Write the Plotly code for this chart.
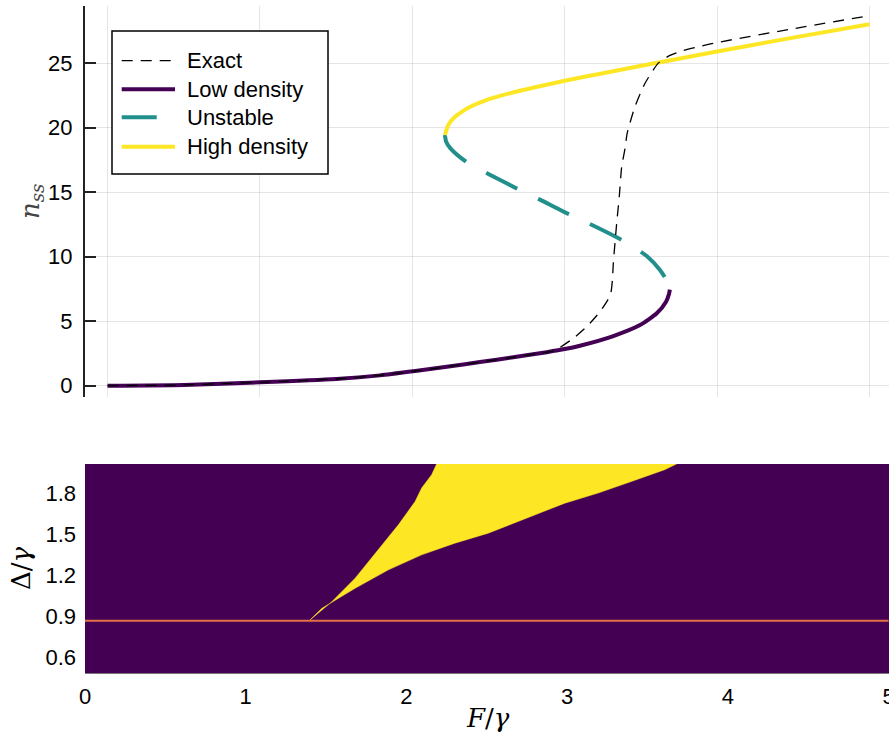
import plotly.graph_objects as go

# ---------------- data ----------------
low_F = [0.0, 0.5, 1.0, 1.5, 1.788, 2.007, 2.226, 2.444, 2.663, 2.882, 3.0, 3.10,
         3.319, 3.494, 3.604, 3.665, 3.684, 3.69]
low_n = [0.0, 0.06, 0.26, 0.52, 0.8, 1.12, 1.47, 1.83, 2.2, 2.6, 2.84, 3.1,
         3.85, 4.7, 5.61, 6.51, 7.1, 7.45]

# unstable branch, listed from the upper turning point down to the lower one
unst_F = [2.214, 2.222, 2.25, 2.357, 2.499, 2.70, 2.838, 2.99, 3.21, 3.396, 3.538,
          3.625, 3.672, 3.69]
unst_n = [19.43, 18.9, 18.4, 17.32, 16.41, 15.2, 14.42, 13.5, 12.28, 11.16, 10.05,
          8.97, 8.1, 7.45]

high_F = [2.214, 2.236, 2.28, 2.367, 2.477, 2.587, 2.805, 3.0, 3.243, 3.461, 3.68,
          4.0, 4.5, 5.0]
high_n = [19.43, 20.2, 20.85, 21.55, 22.1, 22.5, 23.13, 23.64, 24.2, 24.7, 25.19,
          25.9, 26.98, 28.02]

exact_F = [0.0, 0.5, 1.0, 1.5, 1.788, 2.007, 2.226, 2.444, 2.663, 2.882, 2.93,
           3.056, 3.144, 3.232, 3.285, 3.303, 3.313, 3.319, 3.341, 3.358, 3.374,
           3.396, 3.41, 3.461, 3.527, 3.614, 3.691, 3.768, 3.888, 4.0, 4.5, 4.99]
exact_n = [0.0, 0.06, 0.26, 0.52, 0.8, 1.12, 1.47, 1.83, 2.2, 2.6, 2.7,
           3.67, 4.57, 5.74, 6.7, 7.2, 8.2, 9.49, 12.59, 14.65, 16.98,
           18.4, 19.57, 21.63, 23.44, 25.0, 25.6, 25.95, 26.3, 26.6, 27.67, 28.66]

# bistable region boundaries in the (F/gamma, Delta/gamma) plane
left_F = [1.396, 1.536, 1.681, 1.816, 1.95, 2.054, 2.095, 2.157, 2.19]
left_D = [0.867, 1.006, 1.178, 1.373, 1.569, 1.74, 1.839, 1.936, 2.02]
right_F = [1.396, 1.474, 1.681, 1.888, 2.095, 2.302, 2.509, 2.778, 2.986, 3.193,
           3.4, 3.607, 3.689]
right_D = [0.867, 0.957, 1.104, 1.239, 1.349, 1.435, 1.508, 1.63, 1.728, 1.802,
           1.887, 1.973, 2.02]

threshold_F = [0.0, 5.0]
threshold_D = [0.866, 0.866]

top_yticks = [0, 5, 10, 15, 20, 25]
top_xgrid = [0, 1, 2, 3, 4, 5]
bot_xticks = [0, 1, 2, 3, 4, 5]
bot_yticks = [0.6, 0.9, 1.2, 1.5, 1.8]

# ---------------- colours / styles ----------------
PURPLE = "#440154"
TEAL = "#21908C"
YELLOW = "#FDE725"
ORANGE = "#E26F46"
GRID = "rgba(0,0,0,0.10)"
FONT = "Liberation Sans, Arial, sans-serif"
SERIF = "DejaVu Serif, Liberation Serif, serif"
EXACT_DASH = "11px,8px"
UNST_DASH = "35px,23px"

fig = go.Figure()

fig.add_trace(go.Scatter(x=low_F, y=low_n, mode="lines", name="Low density",
                         line=dict(color=PURPLE, width=4, shape="spline", smoothing=0.6),
                         xaxis="x", yaxis="y"))
fig.add_trace(go.Scatter(x=unst_F, y=unst_n, mode="lines", name="Unstable",
                         line=dict(color=TEAL, width=4, shape="spline", smoothing=0.6,
                                   dash=UNST_DASH),
                         xaxis="x", yaxis="y"))
fig.add_trace(go.Scatter(x=high_F, y=high_n, mode="lines", name="High density",
                         line=dict(color=YELLOW, width=4, shape="spline", smoothing=0.5),
                         xaxis="x", yaxis="y"))
fig.add_trace(go.Scatter(x=exact_F, y=exact_n, mode="lines", name="Exact",
                         line=dict(color="black", width=1.3, shape="spline", smoothing=0.6,
                                   dash=EXACT_DASH),
                         xaxis="x", yaxis="y"))

# bottom panel
fig.add_trace(go.Scatter(x=left_F + right_F[::-1], y=left_D + right_D[::-1],
                         mode="lines", fill="toself", fillcolor=YELLOW,
                         line=dict(color=YELLOW, width=0.5),
                         xaxis="x2", yaxis="y2", showlegend=False))
fig.add_trace(go.Scatter(x=threshold_F, y=threshold_D, mode="lines",
                         line=dict(color=ORANGE, width=2),
                         xaxis="x2", yaxis="y2", showlegend=False))

W, H = 889, 734
L, R, T, B = 85, 0, 6, 61
PW, PH = W - L - R, H - T - B


def px(xp):
    return (xp - L) / PW


def py(yp):
    return (H - B - yp) / PH


top_dom = [py(397), 1.0]
bot_dom = [0.0, py(464)]

shapes = [
    dict(type="rect", xref="x2 domain", yref="y2 domain", x0=0, x1=1, y0=0, y1=1,
         fillcolor=PURPLE, line=dict(width=0), layer="below"),
    # legend box
    dict(type="rect", xref="paper", yref="paper", x0=px(112), x1=px(328), y0=py(174), y1=py(31),
         fillcolor="white", line=dict(color="black", width=1.5), layer="above"),
]
legend_items = [
    ("Exact", "black", 1.3, EXACT_DASH, 60.7, 174),
    ("Low density", PURPLE, 4, "solid", 89.3, 175),
    ("Unstable", TEAL, 4, UNST_DASH, 117.3, 175),
    ("High density", YELLOW, 4, "solid", 146.7, 175),
]
annotations = []
for name, col, wdt, dsh, yc, xe in legend_items:
    shapes.append(dict(type="line", xref="paper", yref="paper", x0=px(121.7), x1=px(xe),
                       y0=py(yc), y1=py(yc), line=dict(color=col, width=wdt, dash=dsh),
                       layer="above"))
    annotations.append(dict(text=name, xref="paper", yref="paper", x=px(185), y=py(yc),
                            xanchor="left", yanchor="middle", showarrow=False,
                            font=dict(family=FONT, size=22, color="black")))

annotations += [
    dict(text="<i>n</i><sub><i>ss</i></sub>", xref="paper", yref="paper", x=px(31), y=py(202),
         xanchor="center", yanchor="middle", textangle=-90, showarrow=False,
         font=dict(family=SERIF, size=26, color="#444444")),
    dict(text="Δ/<i>γ</i>", xref="paper", yref="paper", x=px(21), y=py(568),
         xanchor="center", yanchor="middle", textangle=-90, showarrow=False,
         font=dict(family=SERIF, size=26, color="black")),
    dict(text="<i>F</i>/<i>γ</i>", xref="paper", yref="paper", x=px(488), y=py(718),
         xanchor="center", yanchor="middle", showarrow=False,
         font=dict(family=SERIF, size=26, color="black")),
]

fig.update_layout(
    width=W, height=H,
    margin=dict(l=L, r=R, t=T, b=B),
    paper_bgcolor="white", plot_bgcolor="white",
    showlegend=False,
    font=dict(family=FONT, size=22, color="black"),
    xaxis=dict(domain=[0, 1], anchor="y", range=[-0.148, 5.128], tickvals=top_xgrid,
               showticklabels=False, showgrid=True, gridcolor=GRID, gridwidth=1,
               zeroline=False, showline=False, ticks="", automargin=False),
    yaxis=dict(domain=top_dom, anchor="x", range=[-0.876, 29.43], tickvals=top_yticks,
               showgrid=True, gridcolor=GRID, gridwidth=1, zeroline=False,
               showline=True, linecolor="#222222", linewidth=2,
               ticks="inside", ticklen=11, tickwidth=1.5, tickcolor="#222222",
               ticklabelstandoff=6, tickfont=dict(size=22), automargin=False),
    xaxis2=dict(domain=[0, 1], anchor="y2", range=[0, 5.003], tickvals=bot_xticks,
                showgrid=False, zeroline=False, showline=True, linecolor="#777777", linewidth=1,
                ticks="", ticklabelstandoff=4, tickfont=dict(size=22), automargin=False,
                ticklabeloverflow="allow"),
    yaxis2=dict(domain=bot_dom, anchor="x2", range=[0.483, 2.015], tickvals=bot_yticks,
                ticktext=[f"{v:.1f}" for v in bot_yticks],
                showgrid=False, zeroline=False, showline=False, ticks="",
                ticklabelstandoff=8, tickfont=dict(size=22), automargin=False),
    shapes=shapes,
    annotations=annotations,
)

fig.write_html("out.html")
